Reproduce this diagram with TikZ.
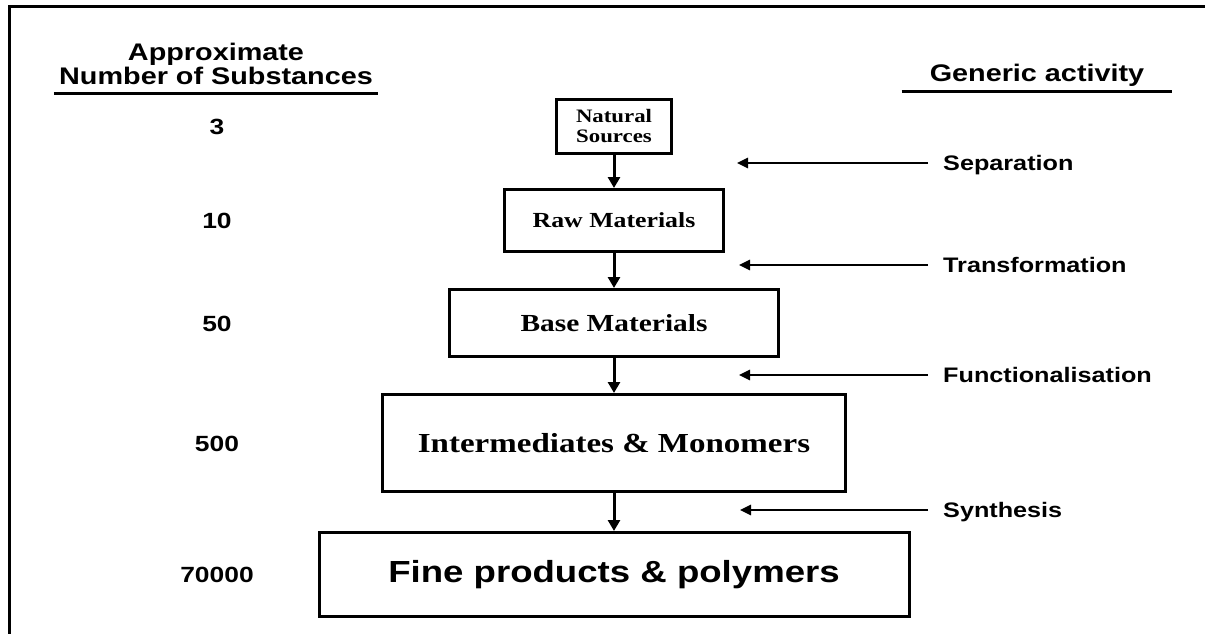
\documentclass[tikz,border=0pt]{standalone}
\usepackage{fontspec}
\usepackage{tikz}
\usetikzlibrary{arrows.meta}
\usetikzlibrary{positioning}
\newfontfamily\labelfont[FakeStretch=1.2]{Liberation Sans}
\newfontfamily\boxfont[FakeStretch=1.2]{Liberation Serif}
\tikzstyle{stagebox}=[draw, rectangle, line width=3pt, anchor=center, inner sep=0pt, font=\boxfont\bfseries]
\tikzstyle{flowedge}=[draw, line width=3pt, -{Triangle[length=11pt, width=12pt]}]
\tikzstyle{actedge}=[draw, line width=2.5pt, -{Triangle[length=11pt, width=10pt]}]
\tikzstyle{sidetext}=[anchor=west, inner xsep=15pt, inner ysep=0pt, text height=15pt, text depth=0pt, font=\labelfont\bfseries\fontsize{21}{24}\selectfont]
\tikzstyle{numtext}=[anchor=center, inner sep=0pt, text height=16pt, text depth=0pt, font=\labelfont\bfseries\fontsize{22}{26}\selectfont]
\tikzstyle{headtext}=[anchor=south, align=center, font=\labelfont\bfseries\fontsize{24}{24}\selectfont]
\tikzstyle{rule}=[draw, line width=3pt]
\newcommand{\stagenode}[5]{\node [stagebox, minimum width=#3, minimum height=#4, #5] (#1) {#2};}

\begin{document}
\begin{tikzpicture}[x=1pt, y=-1pt]
\useasboundingbox (0,0) rectangle (1210,634);
\draw [rule] (9,634) -- (9,7) -- (1205,7);

% column heads
\node [headtext, inner xsep=5pt, inner ysep=8pt] (numhead) at (216,93) {Approximate\\Number of Substances};
\node [headtext, inner xsep=28pt, inner ysep=4.5pt] (acthead) at (1037,91) {Generic activity};
\draw [rule] (numhead.south west) -- (numhead.south east);
\draw [rule] (acthead.south west) -- (acthead.south east);

% stages
\stagenode{nat}{Natural\\Sources}{115pt}{54pt}{align=center, font=\boxfont\bfseries\fontsize{19}{20}\selectfont, at={(614,126.5)}}
\stagenode{raw}{\fontsize{21.5}{24}\selectfont Raw Materials}{219pt}{62pt}{below=33pt of nat}
\stagenode{base}{\fontsize{24.5}{28}\selectfont Base Materials}{329pt}{67pt}{below=35pt of raw}
\stagenode{inter}{\fontsize{27.5}{30}\selectfont Intermediates \& Monomers}{463pt}{97pt}{below=35pt of base}
\stagenode{fine}{\labelfont\fontsize{30.5}{34}\selectfont Fine products \& polymers}{590pt}{84pt}{below=38pt of inter}
\draw [flowedge] (nat.south) -- (raw.north);
\draw [flowedge] (raw.south) -- (base.north);
\draw [flowedge] (base.south) -- (inter.north);
\draw [flowedge] (inter.south) -- (fine.north);

% number of substances
\coordinate (numcol) at (217,0);
\node [numtext] (n1) at (numcol |- nat) {3};
\node [numtext] (n2) at (numcol |- raw) {10};
\node [numtext] (n3) at (numcol |- base) {50};
\node [numtext] (n4) at (numcol |- inter) {500};
\node [numtext] (n5) at (numcol |- fine) {70000};

% activities
\node [sidetext] (sepn) at (928,163) {Separation};
\node [sidetext] (trans) at (928,265) {Transformation};
\node [sidetext] (func) at (928,375) {Functionalisation};
\node [sidetext] (synth) at (928,510) {Synthesis};
\coordinate (sepnend) at (737,163);
\coordinate (transend) at (739,265);
\coordinate (funcend) at (739,375);
\coordinate (synthend) at (740,510);
\draw [actedge] (sepn.west) -- (sepnend);
\draw [actedge] (trans.west) -- (transend);
\draw [actedge] (func.west) -- (funcend);
\draw [actedge] (synth.west) -- (synthend);
\end{tikzpicture}
\end{document}
